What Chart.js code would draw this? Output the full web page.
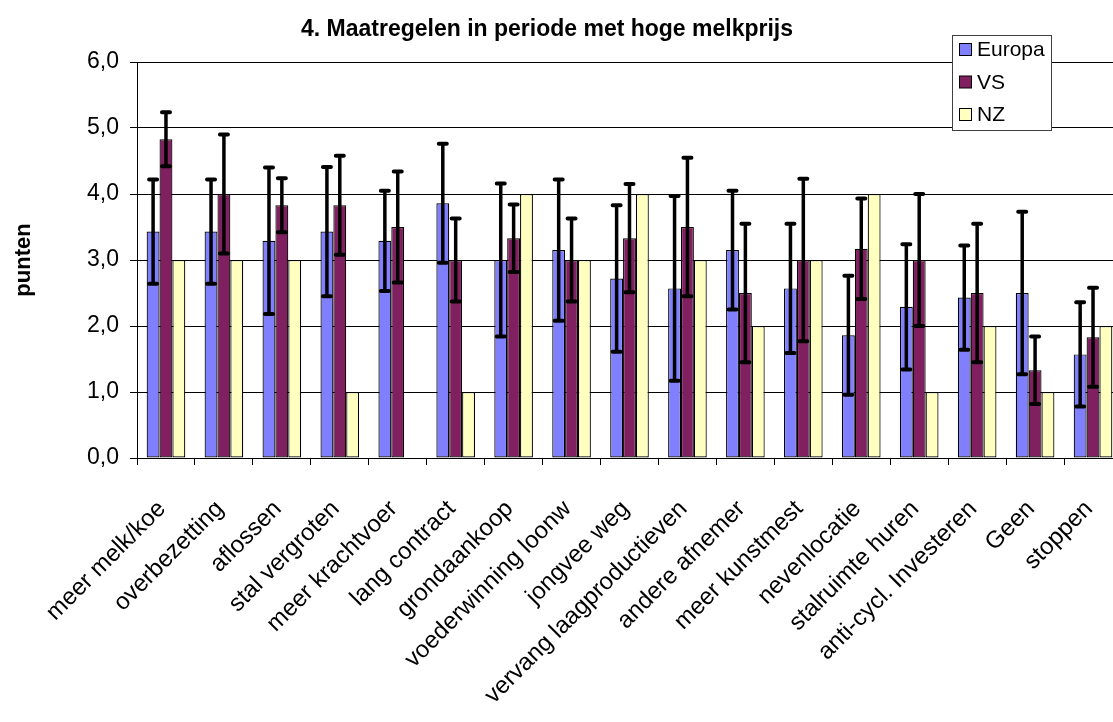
<!DOCTYPE html>
<html>
<head>
<meta charset="utf-8">
<title>Maatregelen in periode met hoge melkprijs</title>
<script src="https://cdn.jsdelivr.net/npm/chart.js@4.4.0/dist/chart.umd.min.js"></script>
<style>
    html, body { margin: 0; padding: 0; background: #fff; overflow: hidden; }
    #wrap { width: 1130px; height: 722px; }
</style>
</head>
<body>
<div id="wrap"><canvas id="measuresChart"></canvas></div>
<script>
const chartTitle = '4. Maatregelen in periode met hoge melkprijs';
const categories = ['meer melk/koe', 'overbezetting', 'aflossen', 'stal vergroten', 'meer krachtvoer',
    'lang contract', 'grondaankoop', 'voederwinning loonw', 'jongvee weg', 'vervang laagproductieven',
    'andere afnemer', 'meer kunstmest', 'nevenlocatie', 'stalruimte huren', 'anti-cycl. Investeren',
    'Geen', 'stoppen'];
const europa    = [3.43, 3.43, 3.29, 3.43, 3.29, 3.86, 3.00, 3.15, 2.72, 2.57, 3.15, 2.57, 1.86, 2.29, 2.43, 2.50, 1.57];
const europaErr = [0.79, 0.79, 1.11, 0.98, 0.76, 0.90, 1.16, 1.07, 1.11, 1.40, 0.90, 0.98, 0.90, 0.95, 0.79, 1.23, 0.79];
const vs        = [4.83, 4.00, 3.83, 3.83, 3.50, 3.00, 3.33, 3.00, 3.33, 3.50, 2.50, 3.00, 3.17, 3.00, 2.50, 1.33, 1.83];
const vsErr     = [0.41, 0.90, 0.41, 0.75, 0.84, 0.63, 0.51, 0.63, 0.82, 1.05, 1.05, 1.23, 0.76, 1.00, 1.05, 0.51, 0.75];
const nz        = [3, 3, 3, 1, null, 1, 4, 3, 4, 3, 2, 3, 4, 1, 2, 1, 2];
const yTicks    = ['0,0', '1,0', '2,0', '3,0', '4,0', '5,0', '6,0'];

const FONT = '"Liberation Sans", Arial, sans-serif';

// error bars on top of the bars, via the y scale
const errorBars = {
    id: 'errorBars',
    afterDatasetsDraw(chart) {
        const ctx = chart.ctx;
        const y = chart.scales.y;
        chart.data.datasets.forEach((ds, i) => {
            if (!ds.errors) return;
            const meta = chart.getDatasetMeta(i);
            meta.data.forEach((bar, j) => {
                const v = ds.data[j];
                const e = ds.errors[j];
                if (v == null || e == null) return;
                const top = y.getPixelForValue(v + e);
                const bot = y.getPixelForValue(v - e);
                ctx.save();
                ctx.strokeStyle = '#000';
                ctx.lineWidth = 3.5;
                ctx.beginPath();
                ctx.moveTo(bar.x, top);
                ctx.lineTo(bar.x, bot);
                ctx.stroke();
                ctx.lineWidth = 4;
                ctx.lineCap = 'round';
                ctx.beginPath();
                ctx.moveTo(bar.x - 4, top);
                ctx.lineTo(bar.x + 4, top);
                ctx.moveTo(bar.x - 4, bot);
                ctx.lineTo(bar.x + 4, bot);
                ctx.stroke();
                ctx.restore();
            });
        });
    }
};

// title and boxed legend like the spreadsheet original
const decorations = {
    id: 'decorations',
    afterDraw(chart) {
        const ctx = chart.ctx;
        ctx.save();
        ctx.fillStyle = '#000';
        ctx.font = 'bold 23px ' + FONT;
        ctx.textAlign = 'center';
        ctx.textBaseline = 'middle';
        ctx.fillText(chartTitle, 547, 30);

        const lx = 952.5, ly = 35.5, lw = 99, lh = 95;
        ctx.fillStyle = '#fff';
        ctx.fillRect(lx, ly, lw, lh);
        ctx.strokeStyle = '#404040';
        ctx.lineWidth = 1;
        ctx.strokeRect(lx, ly, lw, lh);
        ctx.font = '21px ' + FONT;
        ctx.textAlign = 'left';
        chart.data.datasets.forEach((ds, i) => {
            const cy = 49.5 + i * 32.5;
            ctx.fillStyle = ds.backgroundColor;
            ctx.fillRect(959.5, cy - 6, 12, 12);
            ctx.strokeStyle = '#000';
            ctx.strokeRect(959.5, cy - 6, 12, 12);
            ctx.fillStyle = '#000';
            ctx.fillText(ds.label, 977, cy + 1);
        });
        ctx.restore();
    }
};

const ctx = document.getElementById('measuresChart').getContext('2d');
const measuresChart = new Chart(ctx, {
    type: 'bar',
    data: {
        labels: categories,
        datasets: [{
            label: 'Europa',
            data: europa,
            errors: europaErr,
            backgroundColor: '#8080ff',
            borderColor: '#000',
            borderWidth: 1.2
        }, {
            label: 'VS',
            data: vs,
            errors: vsErr,
            backgroundColor: '#802060',
            borderColor: '#000',
            borderWidth: 1.2
        }, {
            label: 'NZ',
            data: nz,
            backgroundColor: '#ffffc0',
            borderColor: '#000',
            borderWidth: 1.2
        }]
    },
    options: {
        responsive: true,
        maintainAspectRatio: false,
        animation: false,
        layout: {
            padding: { top: 62, right: 8, left: 0, bottom: 0 }
        },
        datasets: {
            bar: {
                categoryPercentage: 3 / 4.5,
                barPercentage: 1,
                borderSkipped: false
            }
        },
        plugins: {
            legend: { display: false },
            title: { display: false },
            tooltip: { enabled: false }
        },
        scales: {
            x: {
                grid: {
                    offset: true,
                    drawOnChartArea: false,
                    drawTicks: true,
                    tickLength: 7,
                    color: '#000'
                },
                border: { color: '#000', width: 1 },
                ticks: {
                    autoSkip: false,
                    maxRotation: 45,
                    minRotation: 45,
                    padding: 30,
                    labelOffset: -4,
                    color: '#000',
                    font: { family: FONT, size: 24 }
                },
                afterFit: function(scale) {
                    scale.height = 264;
                    // rotated labels must not squeeze the plot area
                    scale.paddingLeft = 0;
                    scale.paddingRight = 0;
                }
            },
            y: {
                min: 0,
                max: 6,
                ticks: {
                    stepSize: 1,
                    padding: 11,
                    color: '#000',
                    font: { family: FONT, size: 23 },
                    callback: function(value) {
                        return yTicks[value];
                    }
                },
                grid: {
                    color: '#000',
                    tickLength: 7
                },
                border: { color: '#000', width: 1 },
                title: {
                    display: true,
                    text: 'punten',
                    color: '#000',
                    padding: { top: 11, bottom: 0 },
                    font: { family: FONT, size: 22, weight: 'bold' }
                },
                afterFit: function(scale) {
                    scale.width = 137;
                }
            }
        }
    },
    plugins: [errorBars, decorations]
});
</script>
</body>
</html>
